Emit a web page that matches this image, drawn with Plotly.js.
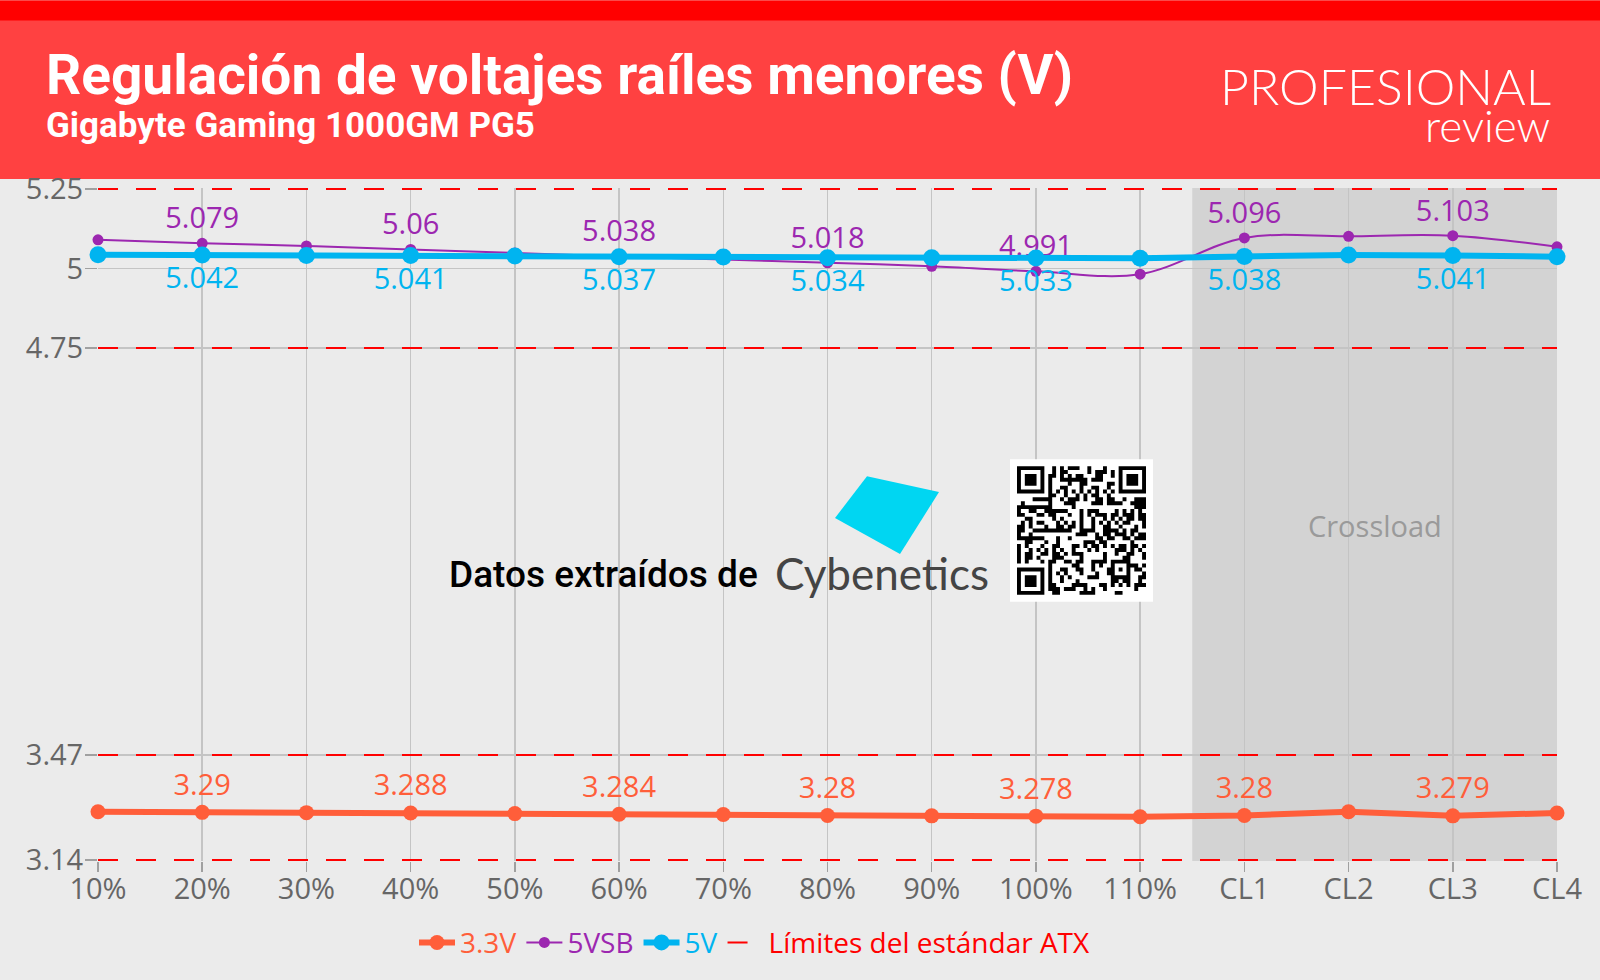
<!DOCTYPE html>
<html>
<head>
<meta charset="utf-8">
<script src="https://cdn.plot.ly/plotly-3.0.1.min.js"></script>
<style>
html,body{margin:0;padding:0;background:#ebebeb;}
#chart{width:1600px;height:980px;}
</style>
</head>
<body>
<div id="chart"></div>
<script>
// ---- data ----
const categories = ['10%','20%','30%','40%','50%','60%','70%','80%','90%','100%','110%','CL1','CL2','CL3','CL4'];
const rail33 = [3.292, 3.29, 3.289, 3.288, 3.286, 3.284, 3.283, 3.28, 3.279, 3.278, 3.276, 3.28, 3.292, 3.279, 3.288];
const rail5vsb = [5.09, 5.079, 5.071, 5.06, 5.049, 5.038, 5.028, 5.018, 5.007, 4.991, 4.982, 5.096, 5.101, 5.103, 5.068];
const rail5 = [5.043, 5.042, 5.041, 5.041, 5.039, 5.037, 5.036, 5.034, 5.034, 5.033, 5.032, 5.038, 5.042, 5.041, 5.037];
const atxLimits = [5.25, 4.75, 3.47, 3.14];
const yTickVals = [3.14, 3.47, 4.75, 5, 5.25];
const yTickText = ['3.14', '3.47', '4.75', '5', '5.25'];
const seriesNames = ['3.3V', '5VSB', '5V', 'Límites del estándar ATX'];
const crossloadStart = 'CL1';

// ---- styling ----
const C33 = '#ff5e3a', CVSB = '#9c27b0', C5 = '#00b4f0', CLIM = '#ff0000';
const FONT = '"Open Sans", "Noto Sans", sans-serif';
const W = 1600, H = 980;
const M = {l: 98, r: 43, t: 188, b: 117};
const PW = W - M.l - M.r, PH = H - M.t - M.b;
const px = x => (x - M.l) / PW;
const py = y => (H - M.b - y) / PH;

// labels on every other point (20%, 40%, ...)
const labelsFor = arr => arr.map((v, i) => (i % 2 === 1 ? String(v) : ''));

// limit line trace built from atxLimits
const limX = [], limY = [];
atxLimits.forEach(v => {
  limX.push(categories[0], categories[categories.length - 1], null);
  limY.push(v, v, null);
});

const legendName = (n, c) => '<span style="color:' + c + '">' + n + '</span>';

const traces = [
  {
    x: categories, y: rail33, name: legendName(seriesNames[0], C33),
    mode: 'lines+markers+text', type: 'scatter',
    line: {color: C33, width: 6},
    marker: {color: C33, size: 15},
    text: labelsFor(rail33), textposition: 'top center',
    textfont: {family: FONT, size: 29, color: C33},
    cliponaxis: false, hoverinfo: 'x+y'
  },
  {
    x: categories, y: rail5vsb, name: legendName(seriesNames[1], CVSB),
    mode: 'lines+markers+text', type: 'scatter',
    line: {color: CVSB, width: 2, shape: 'spline', smoothing: 1},
    marker: {color: CVSB, size: 11},
    text: labelsFor(rail5vsb), textposition: 'top center',
    textfont: {family: FONT, size: 29, color: CVSB},
    cliponaxis: false, hoverinfo: 'x+y'
  },
  {
    x: categories, y: rail5, name: legendName(seriesNames[2], C5),
    mode: 'lines+markers+text', type: 'scatter',
    line: {color: C5, width: 6},
    marker: {color: C5, size: 17},
    text: labelsFor(rail5), textposition: 'bottom center',
    textfont: {family: FONT, size: 29, color: C5},
    cliponaxis: false, hoverinfo: 'x+y'
  },
  {
    x: limX, y: limY, name: legendName(seriesNames[3], CLIM),
    mode: 'lines', type: 'scatter',
    line: {color: CLIM, width: 2, dash: '20px,18px'},
    connectgaps: false, hoverinfo: 'y'
  }
];

// ---- decorative shapes ----
const shapes = [];
// header
shapes.push({type: 'rect', xref: 'paper', yref: 'paper', x0: px(0), x1: px(W), y0: py(179), y1: py(0),
  fillcolor: '#ff4141', line: {width: 0}, layer: 'below'});
shapes.push({type: 'rect', xref: 'paper', yref: 'paper', x0: px(0), x1: px(W), y0: py(20), y1: py(0),
  fillcolor: '#ff0000', line: {width: 0}, layer: 'below'});
// crossload band
const clIdx = categories.indexOf(crossloadStart);
shapes.push({type: 'rect', xref: 'x', yref: 'paper', x0: clIdx - 0.5, x1: categories.length - 1, y0: 0, y1: 1,
  fillcolor: '#d3d3d3', line: {width: 0}, layer: 'below'});
// cyan logo square
const sq = [[867, 477], [939, 493], [900, 555], [835, 519]];
shapes.push({type: 'path', xref: 'paper', yref: 'paper',
  path: 'M' + sq.map(p => px(p[0]) + ',' + py(p[1])).join(' L') + ' Z',
  fillcolor: '#00d6f2', line: {width: 0}, layer: 'above'});
// QR code placeholder
shapes.push({type: 'rect', xref: 'paper', yref: 'paper', x0: px(1010), x1: px(1153), y0: py(603), y1: py(460),
  fillcolor: '#ffffff', line: {width: 0}, layer: 'above'});
(function () {
  const N = 33, x0 = 1017, y0 = 467, s = 129 / N;
  const grid = [];
  for (let r = 0; r < N; r++) {
    grid.push([]);
    for (let c = 0; c < N; c++) {
      grid[r].push(((r * 31 + c * 17 + ((r * c) % 7) + ((r ^ c) % 5)) % 11) < 5);
    }
  }
  const finder = (R, Cc) => {
    for (let r = -1; r <= 7; r++) for (let c = -1; c <= 7; c++) {
      const rr = R + r, cc = Cc + c;
      if (rr < 0 || cc < 0 || rr >= N || cc >= N) continue;
      let on = false;
      if (r >= 0 && r <= 6 && c >= 0 && c <= 6) {
        on = (r === 0 || r === 6 || c === 0 || c === 6) || (r >= 2 && r <= 4 && c >= 2 && c <= 4);
      }
      grid[rr][cc] = on;
    }
  };
  finder(0, 0); finder(0, N - 7); finder(N - 7, 0);
  for (let i = 8; i < N - 8; i++) { grid[6][i] = i % 2 === 0; grid[i][6] = i % 2 === 0; }
  for (let r = -2; r <= 2; r++) for (let c = -2; c <= 2; c++) {
    grid[26 + r][26 + c] = (Math.max(Math.abs(r), Math.abs(c)) !== 1);
  }
  let path = '';
  for (let r = 0; r < N; r++) {
    let c = 0;
    while (c < N) {
      if (grid[r][c]) {
        let e = c;
        while (e + 1 < N && grid[r][e + 1]) e++;
        const X0 = px(x0 + c * s), X1 = px(x0 + (e + 1) * s);
        const Y0 = py(y0 + r * s), Y1 = py(y0 + (r + 1) * s);
        path += 'M' + X0 + ',' + Y0 + 'L' + X1 + ',' + Y0 + 'L' + X1 + ',' + Y1 + 'L' + X0 + ',' + Y1 + 'Z';
        c = e + 1;
      } else c++;
    }
  }
  shapes.push({type: 'path', xref: 'paper', yref: 'paper', path: path, fillcolor: '#000000', line: {width: 0}, layer: 'above'});
})();

// ---- annotations ----
const annotations = [
  {text: 'Regulación de voltajes raíles menores (V)', xref: 'paper', yref: 'paper', x: px(44), y: py(75),
    xanchor: 'left', yanchor: 'middle', showarrow: false,
    font: {family: 'Roboto, sans-serif', size: 55, weight: 700, color: '#ffffff'}},
  {text: 'Gigabyte Gaming 1000GM PG5', xref: 'paper', yref: 'paper', x: px(44), y: py(125),
    xanchor: 'left', yanchor: 'middle', showarrow: false,
    font: {family: 'Roboto, sans-serif', size: 35, weight: 700, color: '#ffffff'}},
  {text: 'PROFESIONAL', xref: 'paper', yref: 'paper', x: px(1553), y: py(86),
    xanchor: 'right', yanchor: 'middle', showarrow: false,
    font: {family: 'Lato, sans-serif', size: 50, weight: 300, color: '#ffffff'}},
  {text: 'review', xref: 'paper', yref: 'paper', x: px(1552), y: py(125),
    xanchor: 'right', yanchor: 'middle', showarrow: false,
    font: {family: 'Lato, sans-serif', size: 44, weight: 300, color: '#ffffff'}},
  {text: 'Crossload', xref: 'x', yref: 'paper', x: (clIdx - 0.5 + categories.length - 1) / 2, y: py(527),
    xanchor: 'center', yanchor: 'middle', showarrow: false,
    font: {family: FONT, size: 29, color: '#9a9a9a'}},
  {text: 'Datos extraídos de', xref: 'paper', yref: 'paper', x: px(447), y: py(576),
    xanchor: 'left', yanchor: 'middle', showarrow: false,
    font: {family: 'Roboto, sans-serif', size: 37, weight: 500, color: '#000000'}},
  {text: 'Cybenetics', xref: 'paper', yref: 'paper', x: px(773), y: py(574),
    xanchor: 'left', yanchor: 'middle', showarrow: false,
    font: {family: 'Lato, sans-serif', size: 44, weight: 400, color: '#444444'}}
];

const layout = {
  width: W, height: H,
  margin: M,
  paper_bgcolor: '#ebebeb', plot_bgcolor: '#ebebeb',
  showlegend: true,
  legend: {orientation: 'h', x: px(755), xanchor: 'center', y: py(945), yanchor: 'middle',
    font: {family: FONT, size: 28}, bgcolor: 'rgba(0,0,0,0)', itemwidth: 36},
  xaxis: {type: 'category', categoryorder: 'array', categoryarray: categories,
    range: [0, categories.length - 1], showgrid: true, gridcolor: '#c4c4c4', gridwidth: 1.5,
    ticks: 'outside', ticklen: 10, tickcolor: '#a0a0a0', tickwidth: 1.5, ticklabelstandoff: -8,
    tickfont: {family: FONT, size: 29, color: '#666666'}, zeroline: false, showline: false, fixedrange: true},
  yaxis: {range: [3.137, 5.253], tickvals: yTickVals, ticktext: yTickText,
    showgrid: true, gridcolor: '#c4c4c4', gridwidth: 1.5,
    ticks: 'outside', ticklen: 12, tickcolor: '#a0a0a0', tickwidth: 1.5, ticklabelstandoff: -4,
    tickfont: {family: FONT, size: 29, color: '#666666'}, zeroline: false, showline: false, fixedrange: true},
  shapes: shapes,
  annotations: annotations
};

Plotly.newPlot('chart', traces, layout, {displayModeBar: false, staticPlot: true});
</script>
</body>
</html>
